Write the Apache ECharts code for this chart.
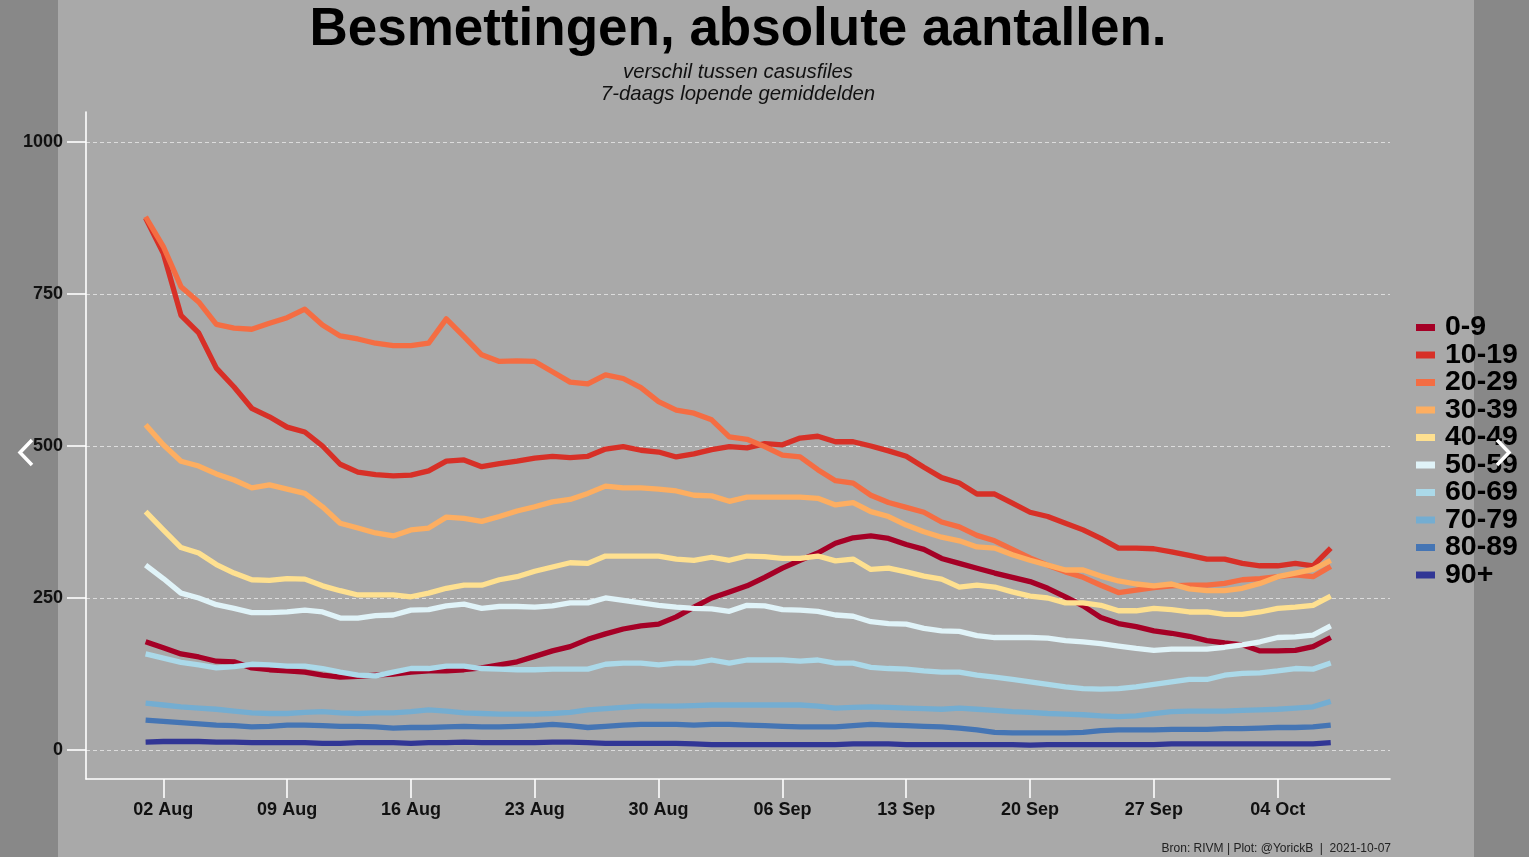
<!DOCTYPE html>
<html>
<head>
<meta charset="utf-8">
<script src="https://cdn.jsdelivr.net/npm/echarts@6/dist/echarts.min.js"></script>
<style>
html,body{margin:0;padding:0;background:#888888;}
#chart{width:1529px;height:857px;}
</style>
</head>
<body>
<div id="chart"></div>
<script>
const dates = [
'2021-08-01','2021-08-02','2021-08-03','2021-08-04','2021-08-05','2021-08-06','2021-08-07','2021-08-08','2021-08-09','2021-08-10',
'2021-08-11','2021-08-12','2021-08-13','2021-08-14','2021-08-15','2021-08-16','2021-08-17','2021-08-18','2021-08-19','2021-08-20',
'2021-08-21','2021-08-22','2021-08-23','2021-08-24','2021-08-25','2021-08-26','2021-08-27','2021-08-28','2021-08-29','2021-08-30',
'2021-08-31','2021-09-01','2021-09-02','2021-09-03','2021-09-04','2021-09-05','2021-09-06','2021-09-07','2021-09-08','2021-09-09',
'2021-09-10','2021-09-11','2021-09-12','2021-09-13','2021-09-14','2021-09-15','2021-09-16','2021-09-17','2021-09-18','2021-09-19',
'2021-09-20','2021-09-21','2021-09-22','2021-09-23','2021-09-24','2021-09-25','2021-09-26','2021-09-27','2021-09-28','2021-09-29',
'2021-09-30','2021-10-01','2021-10-02','2021-10-03','2021-10-04','2021-10-05','2021-10-06','2021-10-07'];

const tickDates = ['2021-08-02','2021-08-09','2021-08-16','2021-08-23','2021-08-30','2021-09-06','2021-09-13','2021-09-20','2021-09-27','2021-10-04'];
const tickLabels = ['02 Aug','09 Aug','16 Aug','23 Aug','30 Aug','06 Sep','13 Sep','20 Sep','27 Sep','04 Oct'];
const yTicks = [0, 250, 500, 750, 1000];
const yTickLabels = ['0', '250', '500', '750', '1000'];

const groups = ['0-9','10-19','20-29','30-39','40-49','50-59','60-69','70-79','80-89','90+'];

const s0_9 = [178,168,158,153,146,145,135,132,130,128, 123,120,121,123,125,128,130,130,132,135, 140,145,154,163,170,182,191,199,204,207, 219,235,250,260,270,284,299,312,324,340, 349,352,348,338,330,315,307,299,291,284, 277,266,252,237,218,208,203,196,192,187, 180,176,173,163,163,164,170,185];
const s10_19 = [875,817,715,686,628,597,562,548,531,523, 500,470,457,453,451,452,459,475,477,466, 471,475,480,483,481,483,495,499,493,490, 482,487,494,499,497,504,502,513,516,507, 507,500,492,483,465,448,439,421,421,406, 391,384,373,362,348,332,332,331,326,320, 314,314,307,303,303,307,303,332];
const s20_29 = [877,828,762,737,700,694,692,702,711,725, 699,681,676,669,665,665,669,709,680,650, 639,640,639,622,605,602,617,611,596,573, 559,554,543,515,511,499,485,482,461,443, 439,419,407,399,391,375,367,353,344,330, 316,304,293,284,271,259,263,267,270,271, 271,274,280,282,285,288,285,302];
const s30_39 = [535,502,475,467,454,444,431,436,429,422, 400,373,365,357,352,362,365,383,381,376, 384,393,400,408,412,422,434,431,431,429, 426,419,418,409,416,416,416,416,414,403, 407,392,384,370,359,350,344,334,332,321, 312,304,296,296,286,278,273,270,273,265, 262,262,266,274,285,291,297,312];
const s40_49 = [392,362,333,324,305,291,280,279,282,281, 270,262,255,255,255,252,258,266,271,271, 280,285,294,301,308,307,319,319,319,319, 314,312,317,312,319,318,315,315,319,311, 314,297,299,293,286,281,268,271,268,260, 253,250,242,242,238,229,229,233,231,227, 227,223,223,227,233,235,238,253];
const s50_59 = [304,282,258,250,239,233,226,226,227,230, 227,217,217,221,222,230,231,237,240,233, 236,236,235,237,242,242,250,246,242,238, 235,233,232,228,238,237,231,230,228,222, 220,211,208,207,200,196,195,188,185,185, 185,184,180,178,175,171,167,164,166,166, 166,169,173,178,185,186,189,204];
const s60_69 = [158,151,144,140,135,137,141,140,138,138, 134,128,123,122,128,134,134,138,138,134, 133,132,132,133,133,133,141,143,143,140, 143,143,148,143,148,148,148,146,148,143, 143,136,134,133,130,128,128,123,120,116, 112,108,104,101,100,101,104,108,112,116, 116,123,126,127,130,134,133,143];
const s70_79 = [77,74,71,69,67,64,61,60,60,62, 63,61,60,61,61,63,66,64,61,60, 59,59,59,60,62,66,68,70,72,72, 72,73,74,74,74,74,74,74,72,69, 70,71,70,69,68,67,69,67,65,63, 62,60,59,58,56,55,56,60,63,64, 64,64,65,66,67,69,71,80];
const s80_89 = [49,47,45,43,41,40,38,39,41,41, 40,39,39,38,36,37,37,38,39,38, 38,39,40,42,40,37,39,41,42,42, 42,41,42,42,41,40,39,38,38,38, 40,42,41,40,39,38,36,33,29,28, 28,28,28,29,32,33,33,33,34,34, 34,35,35,36,37,37,38,41];
const s90 = [13,14,14,14,13,13,12,12,12,12, 11,11,12,12,12,11,12,12,13,12, 12,12,12,13,13,12,11,11,11,11, 11,10,9,9,9,9,9,9,9,9, 10,10,10,9,9,9,9,9,9,9, 8,9,9,9,9,9,9,9,10,10, 10,10,10,10,10,10,10,12];

const seriesValues = [s0_9, s10_19, s20_29, s30_39, s40_49, s50_59, s60_69, s70_79, s80_89, s90];
const colors = ['#a50026','#d73027','#f46d43','#fdae61','#fee090','#e0f3f8','#abd9e9','#74add1','#4575b4','#313695'];

const base = Date.parse(dates[0] + 'T00:00:00Z');
const dayOf = d => (Date.parse(d + 'T00:00:00Z') - base) / 86400000;
const tickDays = tickDates.map(dayOf);

const chart = echarts.init(document.getElementById('chart'), null, {renderer: 'canvas'});
const FONT = '"Liberation Sans", Arial, Helvetica, sans-serif';

const option = {
  backgroundColor: '#888888',
  animation: false,
  textStyle: {fontFamily: FONT},
  title: {
    text: 'Besmettingen, absolute aantallen.',
    subtext: 'verschil tussen casusfiles\n7-daags lopende gemiddelden',
    left: 738, top: 4, textAlign: 'center', padding: 0, itemGap: 4,
    textStyle: {fontFamily: FONT, fontSize: 53, fontWeight: 'bold', color: '#000', lineHeight: 53},
    subtextStyle: {fontFamily: FONT, fontSize: 20.4, fontStyle: 'italic', color: '#111', lineHeight: 22}
  },
  legend: {
    orient: 'vertical', left: 1416, top: 313, padding: 0,
    itemWidth: 19, itemHeight: 7, itemGap: -1.5, icon: 'rect',
    data: groups,
    textStyle: {fontFamily: FONT, fontSize: 28.5, fontWeight: 'bold', color: '#000', lineHeight: 27.4, padding: [0, 0, 0, 5]}
  },
  grid: {left: 86, right: 139, top: 112, bottom: 78, containLabel: false},
  xAxis: {
    type: 'value', min: -3.37, max: 70.35,
    axisLine: {show: true, onZero: false, lineStyle: {color: '#ffffff', width: 1.6}},
    axisTick: {show: true, customValues: tickDays, length: 19, lineStyle: {color: '#ffffff', width: 1.6}},
    axisLabel: {
      customValues: tickDays, margin: 22, fontFamily: FONT, fontSize: 18, fontWeight: 'bold', color: '#111',
      formatter: v => { const i = tickDays.indexOf(v); return i >= 0 ? tickLabels[i] : ''; }
    },
    splitLine: {show: false}
  },
  yAxis: {
    type: 'value', min: -47.7, max: 1049.3,
    axisLine: {show: true, onZero: false, lineStyle: {color: '#ffffff', width: 1.6}},
    axisTick: {show: true, customValues: yTicks, length: 19, lineStyle: {color: '#ffffff', width: 1.6}},
    axisLabel: {
      customValues: yTicks, margin: 23, fontFamily: FONT, fontSize: 18, fontWeight: 'bold', color: '#111',
      formatter: v => { const i = yTicks.indexOf(v); return i >= 0 ? yTickLabels[i] : ''; }
    },
    splitLine: {show: true, lineStyle: {color: '#dcdcdc', width: 1, type: [4, 3]}}
  },
  series: groups.map((g, k) => ({
    name: g, type: 'line', showSymbol: false, symbol: 'none',
    color: colors[k],
    lineStyle: {color: colors[k], width: 5.3, join: 'round'},
    data: seriesValues[k].map((v, i) => [dayOf(dates[i]), v])
  })),
  graphic: [
    {type: 'rect', z: -100, silent: true, shape: {x: 58, y: 0, width: 1416, height: 857}, style: {fill: '#a9a9a9'}},
    {type: 'text', z: 100, silent: true, x: 1391, y: 849,
      style: {text: 'Bron: RIVM | Plot: @YorickB  |  2021-10-07', font: '12px ' + FONT, fill: '#222', align: 'right', verticalAlign: 'middle'}},
    {type: 'polyline', z: 100, silent: true, shape: {points: [[32, 440], [20, 452.5], [32, 465]]},
      style: {stroke: '#ffffff', lineWidth: 3.5, fill: null}},
    {type: 'polyline', z: 100, silent: true, shape: {points: [[1497, 440], [1509, 452.5], [1497, 465]]},
      style: {stroke: '#ffffff', lineWidth: 3.5, fill: null}}
  ]
};
chart.setOption(option);
</script>
</body>
</html>
